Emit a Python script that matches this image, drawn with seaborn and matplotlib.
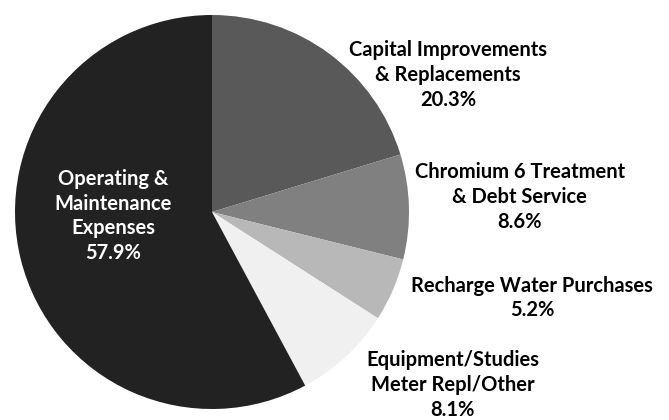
import matplotlib
matplotlib.use("Agg")
import matplotlib.pyplot as plt
import seaborn as sns

# budget shares (%)
categories = ["Capital Improvements\n& Replacements",
              "Chromium 6 Treatment\n& Debt Service",
              "Recharge Water Purchases",
              "Equipment/Studies\nMeter Repl/Other",
              "Operating &\nMaintenance\nExpenses"]
shares = [20.3, 8.6, 5.2, 8.1, 57.9]
slice_colors = ["#595959", "#808080", "#b8b8b8", "#f0f0f0", "#222222"]

sns.set_style("white")
plt.rcParams['font.family'] = ['Lato', 'DejaVu Sans']

fig = plt.figure(figsize=(6.69, 4.20), dpi=100)
R = 197
cx, cy = 212, 420 - 212
ax = fig.add_axes([(cx - R) / 669, (cy - R) / 420, 2 * R / 669, 2 * R / 420])

wedges, _ = ax.pie(shares, colors=slice_colors, startangle=90, counterclock=False,
                   radius=1, wedgeprops=dict(linewidth=0))
ax.set_xlim(-1, 1)
ax.set_ylim(-1, 1)
ax.set_aspect("equal")
ax.axis("off")

# label spots (in pie radius units)
label_pos = [(1.198, 0.695), (1.563, 0.076), (1.624, -0.437), (1.223, -0.878), (-0.503, -0.02)]
for name, val, (x, y), i in zip(categories, shares, label_pos, range(5)):
    col = "white" if i == 4 else "black"
    ax.text(x, y, f"{name}\n{val:.1f}%", ha="center", va="center", fontsize=14.5,
            fontweight="bold", color=col, linespacing=1.3, clip_on=False)

fig.savefig("out.png", dpi=100)
